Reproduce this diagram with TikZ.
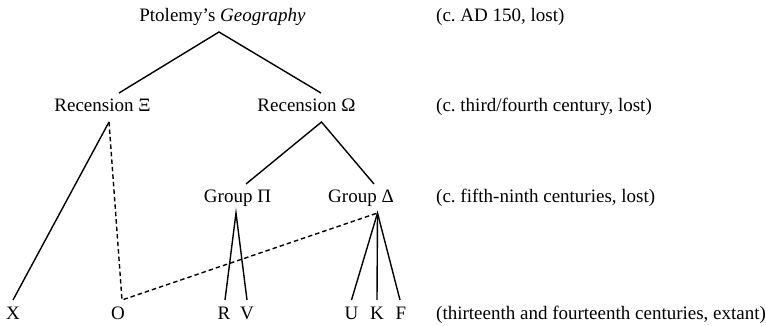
\documentclass[tikz,border=0pt]{standalone}
\usepackage{fontspec}
\setmainfont{Liberation Serif}
\usepackage{tikz}
\frenchspacing
\tikzset{
	lbl/.style={inner sep=0pt, outer ysep=6pt, text height=13pt, text depth=4pt, anchor=base, font=\fontsize{19}{22}\selectfont},
	datelbl/.style={inner sep=0pt, anchor=base west, font=\fontsize{19}{22}\selectfont},
	branch/.style={line width=1.4pt},
	contam/.style={line width=1.4pt, dash pattern=on 4.5pt off 3pt}
}

\begin{document}
\begin{tikzpicture}[x=1pt, y=-1pt]
			%%%%% START %%%%%
			\useasboundingbox (0, 0) rectangle (766, 326);
			
			\node[lbl] (ptol) at (222.5, 22) {Ptolemy's \textit{Geography}};
			
			\node[lbl] (recXi) at (102.5, 112) {Recension Ξ};
			\node[lbl] (recOmega) at (306.5, 112) {Recension Ω};
			
			\node[lbl] (grpPi) at (237.5, 203) {Group Π};
			\node[lbl] (grpDelta) at (361, 203) {Group Δ};
			
			\node[lbl] (msX) at (13, 319) {X};
			\node[lbl] (msO) at (118, 319) {O};
			\node[lbl] (msR) at (224, 319) {R};
			\node[lbl] (msV) at (247, 319) {V};
			\node[lbl] (msU) at (351.5, 319) {U};
			\node[lbl] (msK) at (377, 319) {K};
			\node[lbl] (msF) at (401, 319) {F};
			
			\node[datelbl] (dateA) at (436, 22) {(c. AD 150, lost)};
			\node[datelbl] (dateB) at (436, 112) {(c. third/fourth century, lost)};
			\node[datelbl] (dateC) at (436, 203) {(c. fifth-ninth centuries, lost)};
			\node[datelbl] (dateD) at (436, 319) {(thirteenth and fourteenth centuries, extant)};
			
			\draw[branch] ([xshift=16.5pt]recXi.north) -- ([xshift=-3.5pt]ptol.south) -- ([xshift=14.5pt]recOmega.north);
			\draw[branch] ([xshift=6.5pt]recXi.south) -- (msX.north);
			\draw[branch] ([xshift=8.5pt]grpPi.north) -- ([xshift=15pt]recOmega.south) -- ([xshift=13pt]grpDelta.north);
			\draw[branch] ([xshift=1pt]msR.north) -- ([xshift=-1.5pt]grpPi.south) -- (msV.north);
			\draw[branch] (msU.north) -- ([xshift=16.5pt]grpDelta.south) -- ([xshift=-1pt]msF.north);
			\draw[branch] ([xshift=16.5pt]grpDelta.south) -- (msK.north);
			
			\draw[contam] ([xshift=6.5pt]recXi.south) -- ([xshift=4pt]msO.north) -- ([xshift=16.5pt]grpDelta.south);
			
			%%%%% END %%%%%
		\end{tikzpicture}
\end{document}
